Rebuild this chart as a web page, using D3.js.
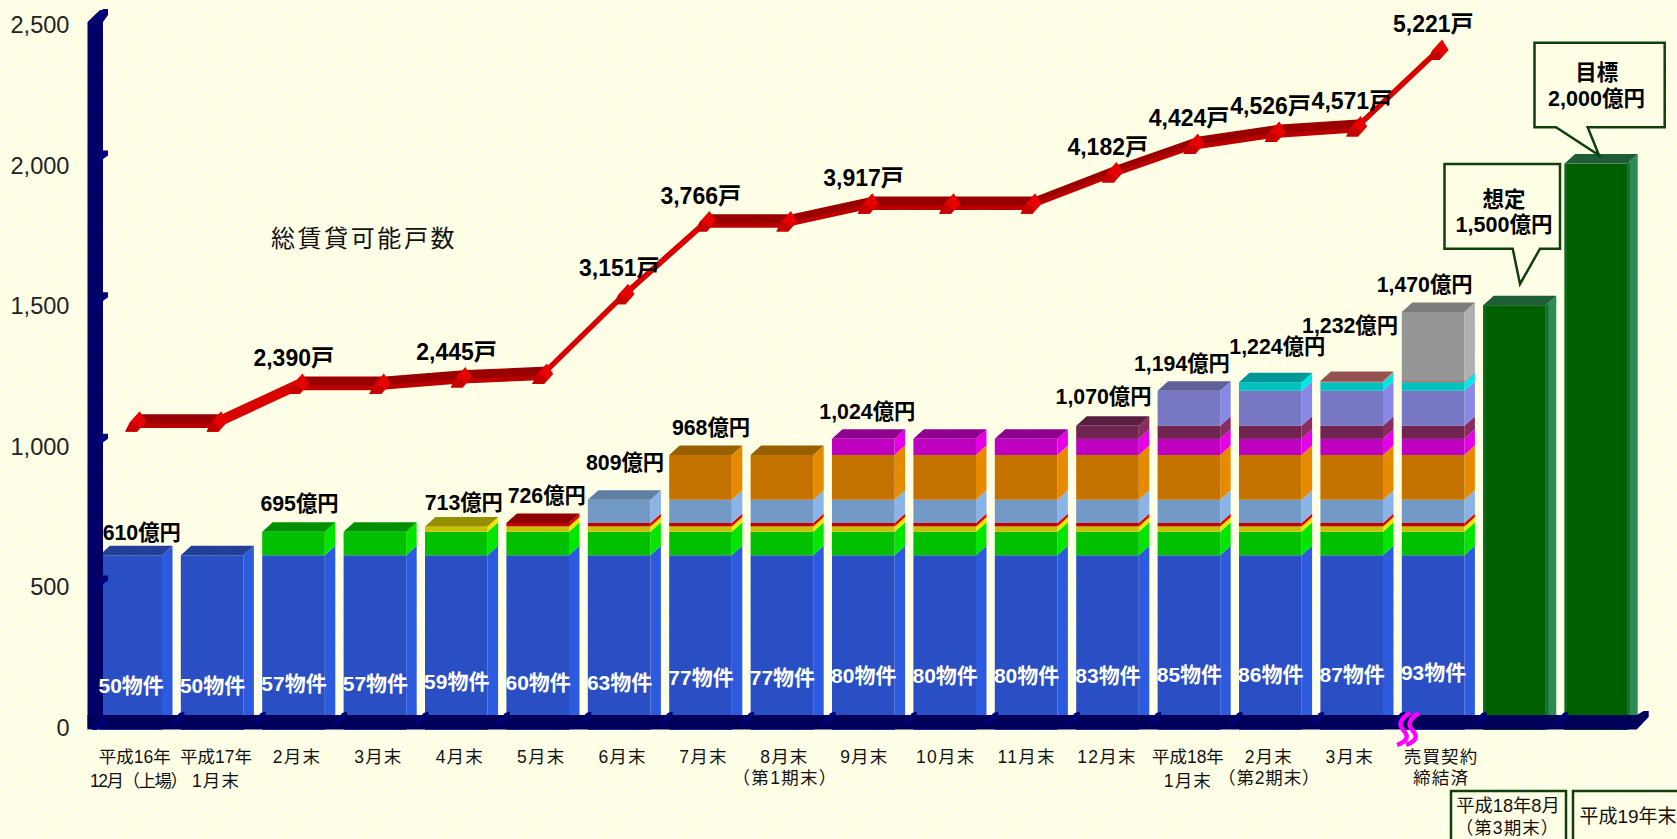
<!DOCTYPE html>
<html lang="ja"><head><meta charset="utf-8">
<script src="https://d3js.org/d3.v7.min.js"></script>
<style>
html,body{margin:0;padding:0;background:#ffffe6;overflow:hidden}
svg{display:block}
text{font-family:"Liberation Sans","Noto Sans CJK JP",sans-serif}
</style></head><body><svg id="c" width="1677" height="839"></svg>
<script>
// ---- data ----
const categories=[["平成16年","12月（上場）"],["平成17年","1月末"],["2月末"],["3月末"],["4月末"],["5月末"],["6月末"],["7月末"],["8月末","（第1期末）"],["9月末"],["10月末"],["11月末"],["12月末"],["平成18年","1月末"],["2月末","（第2期末）"],["3月末"],["売買契約","締結済"],[],[]];
const seriesNames=["blue","green","yellow","red","lightblue","orange","magenta","maroon","purple","cyan","salmon","grey","target"];
const blue     =[617,617,617,617,617,617,617,617,617,617,617,617,617,617,617,617,617,0,0];
const green    =[0,0,83,83,83,83,83,83,83,83,83,83,83,83,83,83,83,0,0];
const yellow   =[0,0,0,0,19,19,19,19,19,19,19,19,19,19,19,19,19,0,0];
const red      =[0,0,0,0,0,12,12,12,12,12,12,12,12,12,12,12,12,0,0];
const lightblue=[0,0,0,0,0,0,82,82,82,82,82,82,82,82,82,82,82,0,0];
const orange   =[0,0,0,0,0,0,0,158,158,158,158,158,158,158,158,158,158,0,0];
const magenta  =[0,0,0,0,0,0,0,0,0,57,57,57,57,57,57,57,57,0,0];
const maroon   =[0,0,0,0,0,0,0,0,0,0,0,0,46,46,46,46,46,0,0];
const purple   =[0,0,0,0,0,0,0,0,0,0,0,0,0,124,124,124,124,0,0];
const cyan     =[0,0,0,0,0,0,0,0,0,0,0,0,0,0,30,30,30,0,0];
const salmon   =[0,0,0,0,0,0,0,0,0,0,0,0,0,0,0,4,4,0,0];
const grey     =[0,0,0,0,0,0,0,0,0,0,0,0,0,0,0,0,244,0,0];
const target   =[0,0,0,0,0,0,0,0,0,0,0,0,0,0,0,0,0,1500,2000];
const seriesValues=[blue,green,yellow,red,lightblue,orange,magenta,maroon,purple,cyan,salmon,grey,target];
const households=[2070,2070,2390,2390,2445,2475,3151,3766,3766,3917,3917,3917,4182,4424,4526,4571,5221];
const householdLabels=[null,null,"2,390戸",null,"2,445戸",null,"3,151戸","3,766戸",null,"3,917戸",null,null,"4,182戸","4,424戸","4,526戸","4,571戸","5,221戸"];
const totalLabels=["610億円",null,"695億円",null,"713億円","726億円","809億円","968億円",null,"1,024億円",null,null,"1,070億円","1,194億円","1,224億円","1,232億円","1,470億円"];
const propertyCounts=[50,50,57,57,59,60,63,77,77,80,80,80,83,85,86,87,93];
const yTicks=[0,500,1000,1500,2000,2500];

// ---- layout and style, kept apart from the values ----
const palette={
 blue:["#2a4fc4","#2d5be0","#233f96"],green:["#00c000","#00e600","#009000"],
 yellow:["#c8c000","#f0e800","#969000"],red:["#c00000","#e60000","#900000"],
 lightblue:["#7399c6","#8ab4e6","#5f7fa5"],orange:["#c47300","#e68a00","#996000"],
 magenta:["#c000c0","#e600e6","#900090"],maroon:["#702550","#8a2c60","#5a1f40"],
 purple:["#7777c4","#8888e6","#5f5f99"],cyan:["#00c0c0","#00e6e6","#009797"],
 salmon:["#b05a5a","#cc6c6c","#955050"],grey:["#969696","#b0b0b0","#7c7c7c"],
 target:["#006000","#2e8b57","#1f5c38"]};
const totalNudge=[[11,-23],null,[6,-28],null,[7.5,-24],[9,-28],[6,-37],[10.5,-28],null,[4,-28],null,null,[-4,-30],[-7,-27],[7,-36],[-1.7,-56],[-8.5,-27.5]];
const countY=[685,685,683,683,681,682,682,677,677,675,675,675,675,674,674,674,672];
const catNudge=[4,4,3.5,3.5,3.5,3.5,3.5,3,2.5,1,1,0.5,-0.5,-1,-1.5,-2,8];
const parenWidth={"12月（上場）":98,"（第1期末）":103.6,"（第2期末）":101.4,"（第3期末）":102.5};
const DX=10.5,DY=9.5,INK="#0f3f0f";

const svg=d3.select("#c");
const defs=svg.append("defs");
const pat=defs.append("pattern").attr("id","bgp").attr("patternUnits","userSpaceOnUse").attr("width",20).attr("height",20);
pat.append("rect").attr("width",20).attr("height",20).attr("fill","#ffffe6");
[[5,5],[15,15]].forEach(([a,b])=>pat.append("path").attr("d",`M${a-2.5},${b}L${a},${b-2.5}L${a+2.5},${b}L${a},${b+2.5}Z`).attr("fill","#fffff8"));
svg.append("rect").attr("width",1677).attr("height",839).attr("fill","url(#bgp)");

const x=d3.scaleBand().domain(d3.range(categories.length)).range([99.4,99.4+81.4*19-18.8]).paddingInner(18.8/81.4).paddingOuter(0);
const y=d3.scaleLinear().domain([0,2500]).range([730,22]);
const yLine=d3.scaleLinear().domain([-500,5500]).range([725,17]);
const w=x.bandwidth(), cx=i=>x(i)+w/2, lx=i=>cx(i)+5.5;
const poly=(g,pts,fill)=>g.append("polygon").attr("points",pts.map(p=>p.join(",")).join(" ")).attr("fill",fill);

// stacked bars
const rows=categories.map((_,i)=>Object.fromEntries(seriesNames.map((n,k)=>[n,seriesValues[k][i]])));
const stacked=d3.stack().keys(seriesNames)(rows);
const barsG=svg.append("g");
categories.forEach((_,i)=>{
  const g=barsG.append("g");
  const l=x(i), r=l+w;
  let topY=null,topK=null;
  stacked.forEach(s=>{
    const [a,b]=s[i]; if(b-a<=0)return;
    const c=palette[s.key], y0=y(a), y1=y(b);
    poly(g,[[r,y0],[r+DX,y0-DY],[r+DX,y1-DY],[r,y1]],c[1]);
    g.append("rect").attr("x",l).attr("y",y1).attr("width",w).attr("height",y0-y1).attr("fill",c[0]);
    if(s.key==="target"){
      g.append("rect").attr("x",l).attr("y",y1).attr("width",2.5).attr("height",y0-y1).attr("fill","#0c6a1c");
      g.append("rect").attr("x",r).attr("y",y1-0.5).attr("width",2.6).attr("height",y0-y1).attr("fill","#107030");
    }
    topY=y1;topK=s.key;
  });
  poly(g,[[l,topY],[l+DX,topY-DY],[r+DX,topY-DY],[r,topY]],palette[topK][2]);
});

// floor and wall
const FL="#00005a",WL="#000066",TK="#000078";
const frontR=x(18)+w+9.5;
svg.append("path").attr("fill",WL).attr("d",`M87.5,22L100,10L108,10L108,15L103,22L103,720L87.5,730Z`);
svg.append("path").attr("fill",FL).attr("d",`M90.5,729.5Q87.5,729.5 87.5,726.5L87.5,715L${frontR},715L${frontR+7},711L${frontR+12},711L${frontR+12},717L${frontR},729.5Z`);
yTicks.forEach(t=>{
  const v=y(t);
  poly(svg,[[92,v],[103,v-13],[108,v-13],[108,v-8],[97,v]],TK);
});
d3.range(1,19).forEach(i=>{
  const t=x(i)-8.5;
  poly(svg,[[t-2,725],[t+7,713],[t+12,711.5],[t+12,716],[t+3,725]],TK);
});

// y axis
const axis=svg.append("g").attr("transform","translate(69.5,0)").call(d3.axisLeft(y).tickValues(yTicks).tickSize(0).tickPadding(0).tickFormat(d3.format(",")));
axis.select(".domain").remove();
axis.selectAll("text").attr("font-size",23.6).attr("fill","#222").attr("dy","0.34em")
  .attr("transform",t=>`translate(0,${-2.5+t/2500*5})`).style("font-family",'"Liberation Sans"');

// household ribbon: strips first, top faces over them, so no seam shows between the two
const rib=svg.append("g");
const D=9;
const pt=i=>[lx(i)-4.5,yLine(households[i])+1.6];
for(let i=0;i<households.length-1;i++){
  const a=pt(i),b=pt(i+1),slope=(a[1]-b[1])/(b[0]-a[0]);
  const steep=slope>0.4, S=steep?6.5:4.6, front=steep?"#d80000":"#bb0000", top=steep?"#d80000":"#990000";
  poly(rib,[[a[0],a[1]-1],[b[0],b[1]-1],[b[0],b[1]+S],[a[0],a[1]+S]],front);
  poly(rib,[a,b,[b[0]+D,b[1]-D],[a[0]+D,a[1]-D]],top);
}
households.forEach((h,i)=>{
  const X=lx(i),Y=yLine(h),g=rib.append("g").attr("transform",`translate(${X},${Y})`);
  poly(g,[[-11,10],[1,10],[10,0],[3.5,-10.5],[-6,0]],"#e60000");
  poly(g,[[-11,10],[1,10],[3,4],[-6,0]],"#c40000");
});

// text helper
function label(t,X,Y,size,opt={}){
  const n=svg.append("text").attr("x",X).attr("y",Y).attr("dy","0.36em").attr("text-anchor",opt.anchor||"middle")
    .attr("font-size",size).attr("font-weight",opt.bold?"bold":"normal").attr("fill",opt.fill||"#000")
    .attr("letter-spacing",opt.ls||null).text(t);
  if(parenWidth[t]) n.attr("textLength",parenWidth[t]).attr("lengthAdjust","spacing");
  return n;
}
// labels on the line
householdLabels.forEach((t,i)=>{ if(t) label(t,lx(i)-5.3,yLine(households[i])-26,23,{bold:true}); });
// totals
totalLabels.forEach((t,i)=>{
  if(!t)return;
  const top=y(d3.sum(seriesValues,s=>s[i]));
  label(t,cx(i)+totalNudge[i][0],top+totalNudge[i][1],21.3,{bold:true});
});
// counts
propertyCounts.forEach((n,i)=>label(n+"物件",cx(i)+0.5,countY[i],21,{bold:true,fill:"#fff"}));
// category labels
categories.forEach((lines,i)=>{
  lines.forEach((t,k)=>{
    const paren=t.startsWith("（");
    const spaced=!t.startsWith("平成")&&!parenWidth[t];
    const shift=t.endsWith("（上場）")?4.3:0;
    label(t,cx(i)+catNudge[i]+shift,756.5+k*(paren||i==16?21.5:24.5),17.5,{fill:"#111",ls:spaced?"1.2px":null});
  });
});
label("総賃貸可能戸数",364,238,24,{fill:"#111",ls:"2.6px"});

// break mark
const bm=cx(16)-31;
[0,9].forEach(o=>svg.append("path").attr("fill","none").attr("stroke","#ff00ff").attr("stroke-width",4.5)
  .attr("d",`M${bm+o+8},713C${bm+o-4},720 ${bm+o-3},726 ${bm+o+2},731C${bm+o+7},737 ${bm+o+5},741 ${bm+o-5},745`));

// callouts
function callout(pts,lines){
  svg.append("polygon").attr("points",pts.map(p=>p.join(",")).join(" ")).attr("fill","#ffffe6").attr("stroke",INK).attr("stroke-width",2.5);
  lines.forEach(l=>label(l[0],l[1],l[2],21.5,{bold:true}));
}
callout([[1444.5,164],[1560,164],[1560,248.7],[1540,248.7],[1520,284],[1512.7,248.7],[1444.5,248.7]],[["想定",1504,199],["1,500億円",1504,224]]);
callout([[1534.5,42.7],[1664.7,42.7],[1664.7,127.3],[1587.7,127.3],[1599,155.3],[1556,127.3],[1534.5,127.3]],[["目標",1596.7,72.7],["2,000億円",1596.5,98.7]]);
// period boxes
svg.append("rect").attr("x",1451).attr("y",791).attr("width",115).attr("height",60).attr("fill","#ffffe6").attr("stroke",INK).attr("stroke-width",2.5);
svg.append("rect").attr("x",1573).attr("y",791).attr("width",120).attr("height",60).attr("fill","#ffffe6").attr("stroke",INK).attr("stroke-width",2.5);
label("平成18年8月",1508,805.5,18.3,{fill:"#111"});
label("（第3期末）",1507,828,17.5,{fill:"#111"});
label("平成19年末",1628,816.5,19,{fill:"#111"});
</script></body></html>
